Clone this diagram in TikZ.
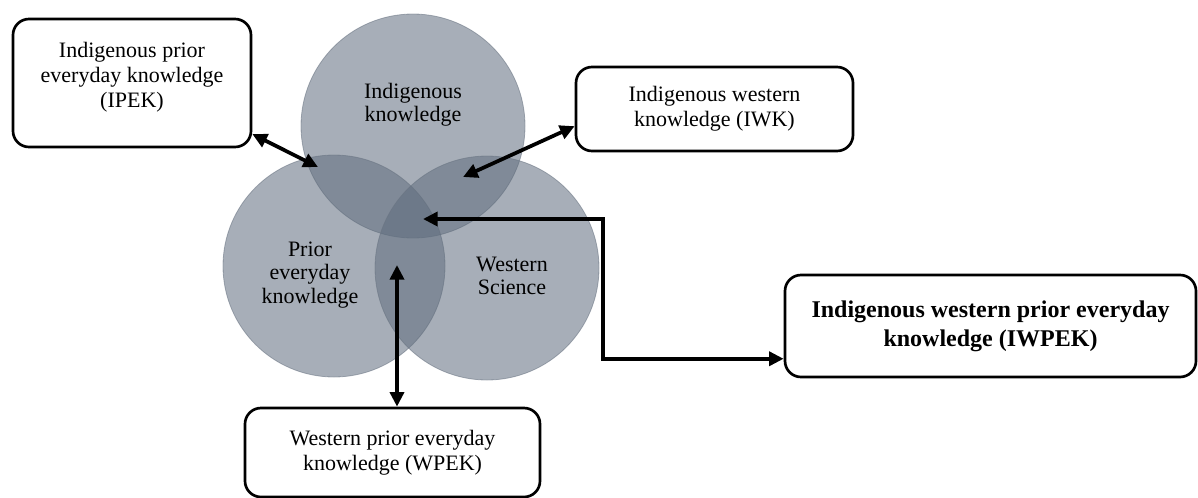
\documentclass[tikz,border=0pt]{standalone}
\usepackage{fontspec}
\setmainfont{Liberation Serif}
\usetikzlibrary{arrows.meta}

\begin{document}
\begin{tikzpicture}[x=0.75pt,y=0.75pt,yscale=-1,xscale=1,
  venn/.style={draw={rgb, 255:red, 105; green, 115; blue, 130},draw opacity=0.55,line width=0.6pt,fill={rgb, 255:red, 95; green, 108; blue, 125},fill opacity=0.55},
  venntext/.style={align=center,inner sep=0.75pt,font=\fontsize{16.5}{17.5}\selectfont},
  knowbox/.style={draw,line width=2pt,rounded corners=12pt,align=center,inner sep=0.75pt,font=\fontsize{16.5}{18.5}\selectfont},
  twoway/.style={line width=2.8pt,>={Triangle[length=11pt,width=10.5pt]},<->}
]
\useasboundingbox (0,0) rectangle (1198,497);
%Shape: Circle
\draw[venn] (413,126) circle (112);
%Shape: Circle
\draw[venn] (334,266) circle (111);
%Shape: Circle
\draw[venn] (487,268) circle (112);
% Text Node
\node[venntext] (indig) at (413,105) {Indigenous\\knowledge};
% Text Node
\node[venntext] (prior) at (310,275) {Prior\\everyday\\knowledge};
% Text Node
\node[venntext] (west) at (512,276) {Western\\Science};
%Rounded Rect
\node[knowbox,minimum width=178.5pt,minimum height=96pt,text depth=12pt] (ipek) at (132,83) {Indigenous prior\\everyday knowledge\\(IPEK)};
%Rounded Rect
\node[knowbox,minimum width=207.75pt,minimum height=63pt] (iwk) at (714.5,109) {Indigenous western\\knowledge (IWK)};
%Rounded Rect
\node[knowbox,minimum width=308.25pt,minimum height=76.5pt,font=\bfseries\fontsize{18}{21.75}\selectfont] (iwpek) at (990.5,326) {Indigenous western prior everyday\\knowledge (IWPEK)};
%Rounded Rect
\node[knowbox,minimum width=221.25pt,minimum height=66.75pt] (wpek) at (392.5,452.5) {Western prior everyday\\knowledge (WPEK)};
% overlap points
\coordinate (ipekpt) at (318,167);
\coordinate (iwkpt) at (463,177);
\coordinate (wpekpt) at (397,265);
\coordinate (iwpekpt) at (423,219);
\coordinate (bend) at (603,219);
%Straight Lines
\draw[twoway] (ipek.-23) -- (ipekpt);
%Straight Lines
\draw[twoway] (iwk.187) -- (iwkpt);
%Straight Lines
\draw[twoway] (wpekpt) -- (wpekpt |- wpek.north);
%Straight Lines
\draw[twoway] (iwpekpt) -- (bend) |- (iwpek.189);
\end{tikzpicture}
\end{document}
